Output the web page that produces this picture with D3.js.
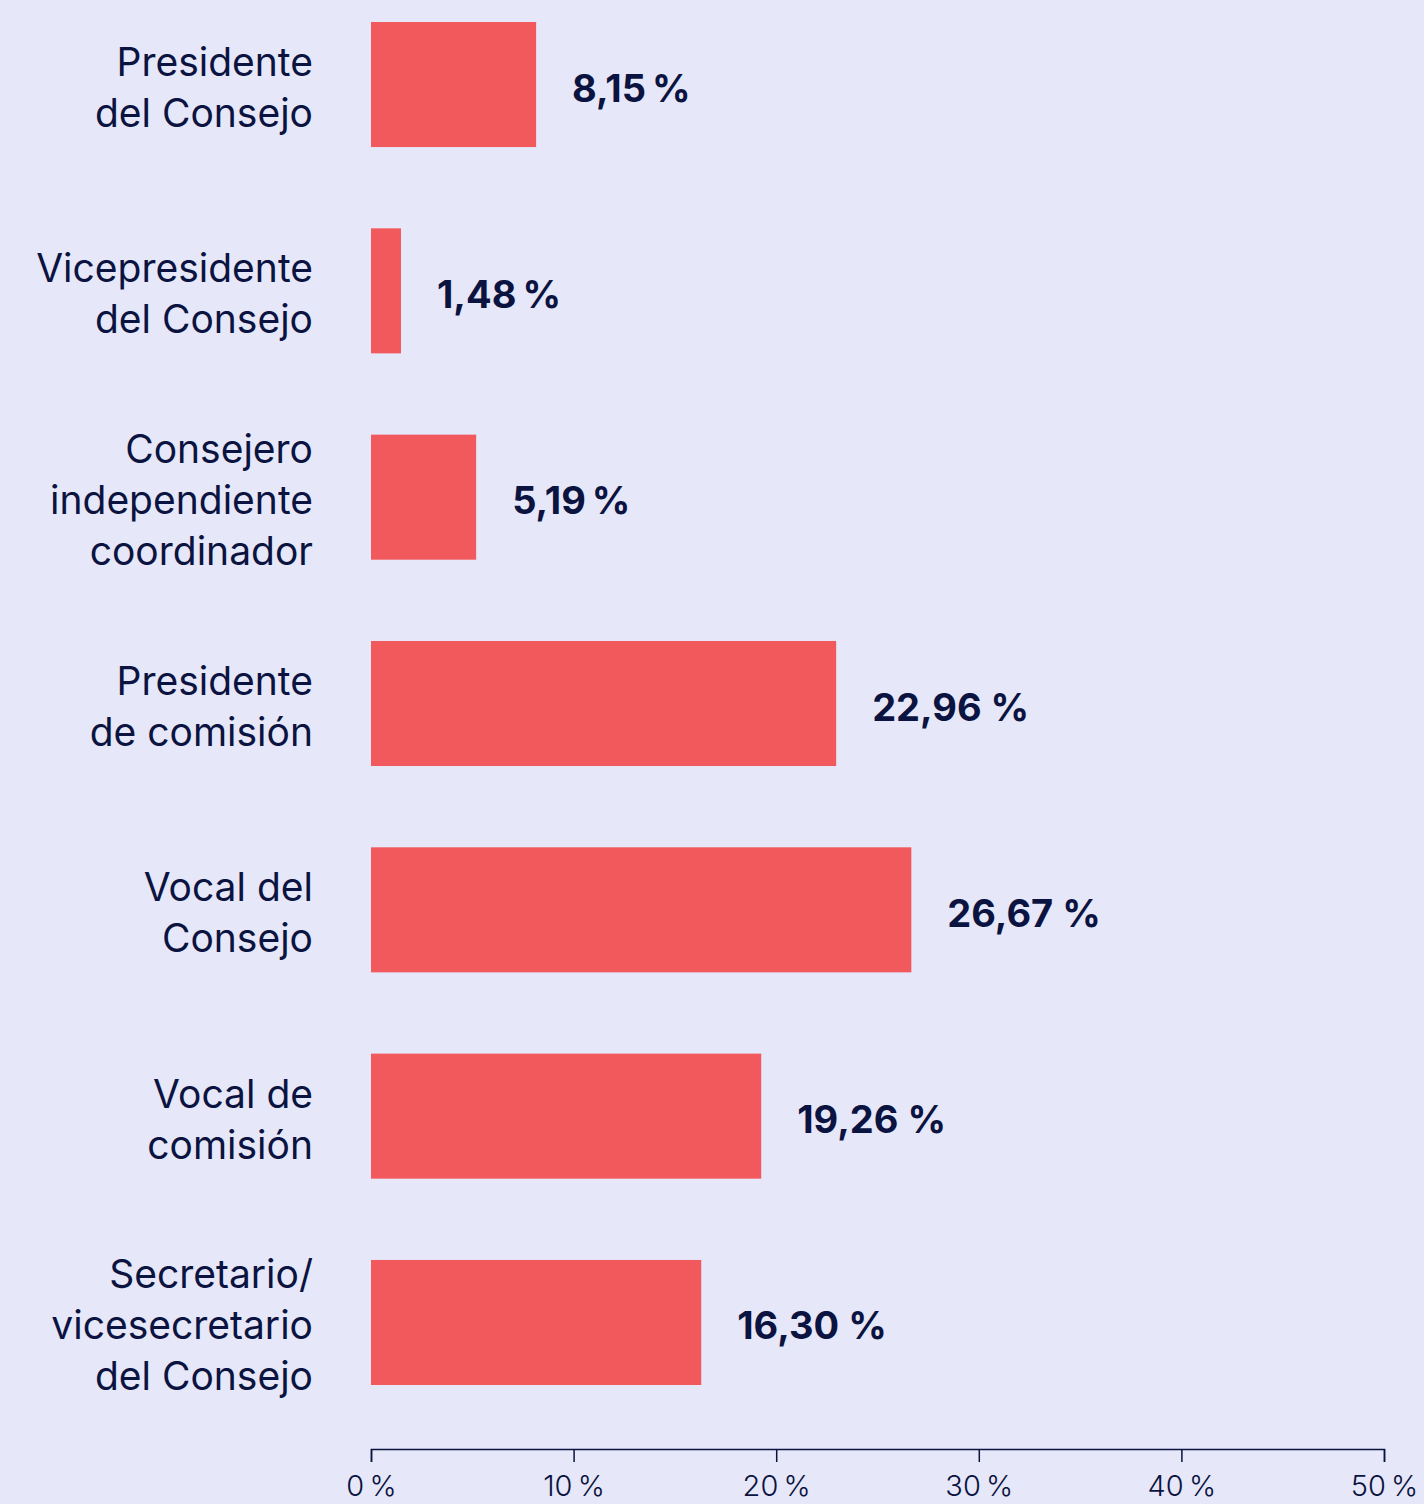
<!DOCTYPE html>
<html>
<head>
<meta charset="utf-8">
<style>
  html, body { margin: 0; padding: 0; background: #e6e7f8; }
  svg { display: block; }
  text { font-family: Inter, "Noto Sans", sans-serif; fill: #0b1340; }
</style>
</head>
<body>
<div id="chart"></div>
<script src="https://d3js.org/d3.v7.min.js"></script>
<script>
// categories (line breaks as in the original)
const categories = [
  ["Presidente", "del Consejo"],
  ["Vicepresidente", "del Consejo"],
  ["Consejero", "independiente", "coordinador"],
  ["Presidente", "de comisión"],
  ["Vocal del", "Consejo"],
  ["Vocal de", "comisión"],
  ["Secretario/", "vicesecretario", "del Consejo"]
];
const values = [8.15, 1.48, 5.19, 22.96, 26.67, 19.26, 16.30];
const valueLabels = ["8,15\u2009%", "1,48\u2009%", "5,19\u2009%", "22,96 %", "26,67 %", "19,26 %", "16,30 %"];
const tickValues = [0, 10, 20, 30, 40, 50];
const tickLabels = ["0\u2009%", "10\u2009%", "20\u2009%", "30\u2009%", "40\u2009%", "50\u2009%"];

const width = 1424, height = 1504;
const svg = d3.select("#chart").append("svg")
  .attr("width", width)
  .attr("height", height);

const x = d3.scaleLinear().domain([0, 50]).range([371, 1384]);
const y = d3.scaleBand()
  .domain(d3.range(values.length))
  .range([22, 1385])
  .paddingInner(0.394)
  .paddingOuter(0);

// bars
svg.append("g")
  .selectAll("rect")
  .data(values)
  .join("rect")
  .attr("x", x(0))
  .attr("y", (d, i) => y(i))
  .attr("width", d => x(d) - x(0))
  .attr("height", y.bandwidth())
  .attr("fill", "#f2595d");

// value labels
svg.append("g")
  .selectAll("text")
  .data(values)
  .join("text")
  .attr("x", d => x(d) + 36)
  .attr("y", (d, i) => y(i) + y.bandwidth() / 2 + 17)
  .attr("font-size", 38)
  .attr("font-weight", 700)
  .text((d, i) => valueLabels[i]);

// category labels
const lineH = 51;
const cat = svg.append("g")
  .selectAll("text")
  .data(categories)
  .join("text")
  .attr("text-anchor", "end")
  .attr("font-size", 39)
  .attr("y", (d, i) => y(i) + y.bandwidth() / 2 + 17 - (d.length - 1) * lineH / 2);

cat.selectAll("tspan")
  .data(d => d)
  .join("tspan")
  .attr("x", 313)
  .attr("dy", (d, j) => j === 0 ? 0 : lineH)
  .text(d => d);

// x axis
const axis = svg.append("g")
  .attr("transform", "translate(0,1449)")
  .call(d3.axisBottom(x)
    .tickValues(tickValues)
    .tickSize(13)
    .tickPadding(13)
    .tickFormat((d, i) => tickLabels[i]));

axis.select(".domain").attr("stroke", "#0b1340").attr("stroke-width", 1.5);
axis.selectAll(".tick line").attr("stroke", "#0b1340").attr("stroke-width", 1.5);
axis.selectAll(".tick text")
  .attr("font-size", 29)
  .attr("font-weight", 300)
  .attr("font-family", "Inter, 'Noto Sans', sans-serif")
  .attr("fill", "#0b1340");
</script>
</body>
</html>
